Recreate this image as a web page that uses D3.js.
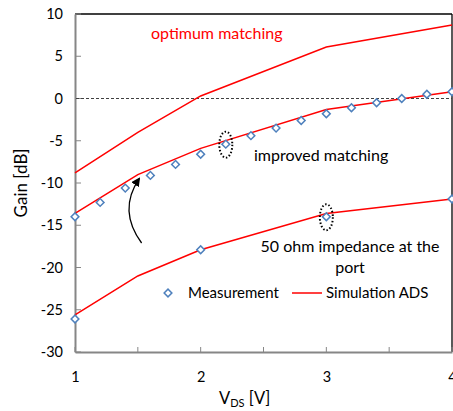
<!DOCTYPE html>
<html><head><meta charset="utf-8">
<script src="https://cdn.jsdelivr.net/npm/d3@7"></script>
<style>body{margin:0;background:#fff}svg{display:block}text{font-family:Lato,"Open Sans",sans-serif}</style>
</head><body><svg id="c" width="453" height="411"></svg>
<script>
const xTicks = [1, 2, 3, 4];
const xMinorTicks = [1, 1.5, 2, 2.5, 3, 3.5, 4];
const yTicks = [10, 5, 0, -5, -10, -15, -20, -25, -30];

const simX = [1, 1.5, 2, 3, 4];
const simOptimum = [-8.8, -4.0, 0.3, 6.1, 8.7];
const simImproved = [-13.6, -9.0, -5.9, -1.3, 0.8];
const sim50ohm = [-25.6, -21.0, -17.9, -13.6, -11.9];

const measImprovedX = [1, 1.2, 1.4, 1.6, 1.8, 2, 2.2, 2.4, 2.6, 2.8, 3, 3.2, 3.4, 3.6, 3.8, 4];
const measImproved = [-14.0, -12.3, -10.6, -9.1, -7.8, -6.6, -5.4, -4.4, -3.5, -2.6, -1.8, -1.1, -0.5, 0.0, 0.5, 0.8];
const meas50ohmX = [1, 2, 3, 4];
const meas50ohm = [-26.1, -17.9, -14.0, -11.9];

const svg = d3.select('#c');
const L = 75, R = 452, T = 14, B = 352;
const x = d3.scaleLinear().domain([1, 4]).range([L, R]);
const y = d3.scaleLinear().domain([-30, 10]).range([B, T]);
const axisGray = '#868686';
const red = '#ff0000';
const blue = '#4f81bd';

// frame: top and right black
svg.append('line').attr('x1', L).attr('x2', R).attr('y1', T).attr('y2', T).attr('stroke', '#000').attr('stroke-width', 1.3);
svg.append('line').attr('x1', R).attr('x2', R).attr('y1', T).attr('y2', B).attr('stroke', '#000').attr('stroke-width', 1.3);

// y axis
const yAxis = d3.axisLeft(y).tickValues(yTicks).tickSize(0).tickPadding(12).tickFormat(d => String(d));
const gy = svg.append('g').attr('transform', `translate(${L},0)`).call(yAxis);
gy.select('.domain').attr('stroke', axisGray).attr('stroke-width', 2);
gy.selectAll('text').attr('font-size', 14.5).attr('fill', '#000').attr('font-family', 'Lato');
svg.append('g').selectAll('line').data(yTicks).join('line')
  .attr('x1', L).attr('x2', L + 6).attr('y1', d => y(d)).attr('y2', d => y(d))
  .attr('stroke', axisGray).attr('stroke-width', 1);

// x axis
const xAxis = d3.axisBottom(x).tickValues(xTicks).tickSize(0).tickPadding(20).tickFormat(d => String(d));
const gx = svg.append('g').attr('transform', `translate(0,${B})`).call(xAxis);
gx.select('.domain').attr('stroke', axisGray).attr('stroke-width', 2);
gx.selectAll('text').attr('font-size', 14.5).attr('fill', '#000').attr('font-family', 'Lato');
svg.append('g').selectAll('line').data(xMinorTicks).join('line')
  .attr('x1', d => x(d)).attr('x2', d => x(d)).attr('y1', B).attr('y2', B - 5)
  .attr('stroke', axisGray).attr('stroke-width', 1);

// zero dashed line
svg.append('line').attr('x1', L + 1).attr('x2', R).attr('y1', y(0)).attr('y2', y(0))
  .attr('stroke', '#404040').attr('stroke-width', 1.2).attr('stroke-dasharray', '3,2');

// simulation lines
const line = d3.line().x(d => x(d[0])).y(d => y(d[1]));
[simOptimum, simImproved, sim50ohm].forEach(s => {
  svg.append('path').attr('d', line(simX.map((v, i) => [v, s[i]])))
    .attr('fill', 'none').attr('stroke', red).attr('stroke-width', 1.5);
});

// measurement diamonds
const diamond = d3.symbol().type(d3.symbolSquare).size(30);
const meas = measImprovedX.map((v, i) => [v, measImproved[i]]).concat(meas50ohmX.map((v, i) => [v, meas50ohm[i]]));
svg.append('g').selectAll('path').data(meas).join('path')
  .attr('d', diamond)
  .attr('transform', d => `translate(${x(d[0])},${y(d[1])}) rotate(45)`)
  .attr('fill', '#fff').attr('stroke', blue).attr('stroke-width', 1.5);

// dotted ellipses
[[2.2, -5.4], [3, -14.0]].forEach(p => {
  svg.append('ellipse').attr('cx', x(p[0])).attr('cy', y(p[1]) + 0.5).attr('rx', 6.5).attr('ry', 13)
    .attr('fill', 'none').attr('stroke', '#000').attr('stroke-width', 2).attr('stroke-dasharray', '1.5,2');
});

// curved arrow
svg.append('defs').append('marker').attr('id', 'ah').attr('viewBox', '0 0 10 10')
  .attr('refX', 8).attr('refY', 5).attr('markerWidth', 9).attr('markerHeight', 9)
  .attr('markerUnits', 'userSpaceOnUse').attr('orient', 'auto')
  .append('path').attr('d', 'M0,0 L10,5 L0,10 z').attr('fill', '#000');
const a0 = [x(1.53), y(-17.1)], a1 = [x(1.51), y(-9.5)];
svg.append('path').attr('d', `M${a0[0]},${a0[1]} Q${x(1.34)},${y(-13.2)} ${a1[0]},${a1[1]}`)
  .attr('fill', 'none').attr('stroke', '#000').attr('stroke-width', 1.3).attr('marker-end', 'url(#ah)');

// annotations
svg.append('text').attr('x', 151).attr('y', 39).attr('fill', red).attr('font-size', 16).text('optimum matching');
svg.append('text').attr('x', 254).attr('y', 161).attr('fill', '#000').attr('font-size', 16).text('improved matching');
svg.append('text').attr('x', 350).attr('y', 252).attr('text-anchor', 'middle').attr('font-size', 16).text('50 ohm impedance at the');
svg.append('text').attr('x', 350).attr('y', 273).attr('text-anchor', 'middle').attr('font-size', 16).text('port');

// legend
svg.append('path').attr('d', diamond).attr('transform', 'translate(168,293) rotate(45)')
  .attr('fill', '#fff').attr('stroke', blue).attr('stroke-width', 1.5);
svg.append('text').attr('x', 188).attr('y', 298).attr('font-size', 15).text('Measurement');
svg.append('line').attr('x1', 292).attr('x2', 322).attr('y1', 293).attr('y2', 293).attr('stroke', red).attr('stroke-width', 1.5);
svg.append('text').attr('x', 326).attr('y', 298).attr('font-size', 15).text('Simulation ADS');

// axis titles
svg.append('text').attr('transform', `translate(27,${(T + B) / 2}) rotate(-90)`).attr('text-anchor', 'middle')
  .attr('font-size', 17).text('Gain [dB]');
const xt = svg.append('text').attr('x', 219).attr('y', 404).attr('font-size', 16.5);
xt.append('tspan').text('V');
xt.append('tspan').attr('font-size', 11).attr('dy', 3).text('DS');
xt.append('tspan').attr('dy', -3).text(' [V]');
</script></body></html>
